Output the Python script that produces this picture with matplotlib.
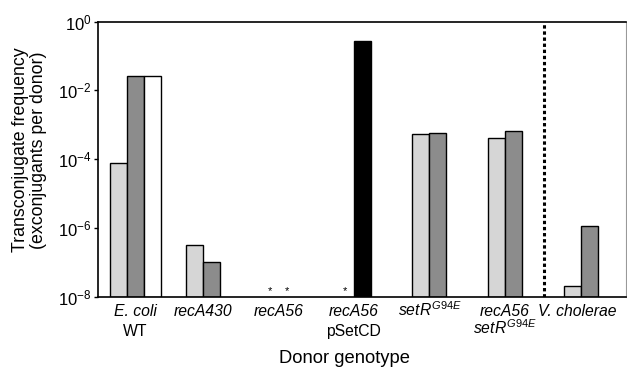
import matplotlib
matplotlib.use("Agg")
import matplotlib.pyplot as plt
import numpy as np

plt.rcParams['font.family'] = ['Liberation Sans', 'DejaVu Sans']
plt.rcParams['mathtext.fontset'] = 'custom'
plt.rcParams['mathtext.rm'] = 'Liberation Sans'
plt.rcParams['mathtext.it'] = 'Liberation Sans:italic'

groups = ['E. coli WT', 'recA430', 'recA56', 'recA56 pSetCD', 'setR G94E', 'recA56 setR G94E', 'V. cholerae']
# values per slot (None = not shown / below detection)
light_vals = [8e-5, 3.1e-7, None, None, 5.5e-4, 4.2e-4, 2.1e-8]
dark_vals = [2.6e-2, 1.05e-7, None, 2.8e-1, 5.8e-4, 6.5e-4, 1.15e-6]
dark_colors = ['#8c8c8c', '#8c8c8c', '#8c8c8c', '#000000', '#8c8c8c', '#8c8c8c', '#8c8c8c']
white_vals = [2.6e-2, None, None, None, None, None, None]
# below-detection markers: (group, slot)
star_slots = [(2, 0), (2, 1), (3, 0)]
tick_vals = [1e-8, 1e-6, 1e-4, 1e-2, 1e0]
tick_labels = [r'$10^{-8}$', r'$10^{-6}$', r'$10^{-4}$', r'$10^{-2}$', r'$10^{0}$']

W, H = 627, 368
fig = plt.figure(figsize=(W/100, H/100), dpi=100)
ax = fig.add_axes([97.7/W, 1-296.7/H, (626-97.7)/W, (296.7-21.7)/H])

w = 0.225
base = 1e-8
x = np.arange(len(groups))
for i in range(len(groups)):
    if light_vals[i] is not None:
        ax.bar(x[i] - w/2, light_vals[i] - base, w, bottom=base, color='#d6d6d6', edgecolor='black', linewidth=1.0)
    if dark_vals[i] is not None:
        ax.bar(x[i] + w/2, dark_vals[i] - base, w, bottom=base, color=dark_colors[i], edgecolor='black', linewidth=1.0)
    if white_vals[i] is not None:
        ax.bar(x[i] + 3*w/2, white_vals[i] - base, w, bottom=base, color='white', edgecolor='black', linewidth=1.0)

for g, s in star_slots:
    ax.text(x[g] + (s - 0.5) * w, 1.05e-8, '*', ha='center', va='bottom', fontsize=8)

ax.set_yscale('log')
ax.set_ylim(1e-8, 1e0)
ax.set_xlim(-0.388, 6.6)
ax.axvline(5.52, color='black', linestyle=(0, (1.1, 0.9)), linewidth=2.2)

ax.set_yticks(tick_vals)
ax.set_yticklabels(tick_labels, fontsize=12)
ax.yaxis.set_minor_locator(matplotlib.ticker.NullLocator())
ax.tick_params(axis='y', direction='out', length=3, width=1, pad=1.5)
ax.set_xticks([])

fs = 11.3
l1 = -19.5 * 0.72  # points, baseline of first line
l2 = -39.0 * 0.72  # points, baseline of second line
trans = ax.get_xaxis_transform()


def lab(xpos, line, txt, **kw):
    ax.annotate(txt, xy=(xpos, 0), xycoords=trans, xytext=(0, line), textcoords='offset points',
                ha='center', va='baseline', fontsize=fs, **kw)


lab(x[0] + w/2, l1, 'E. coli', style='italic')
lab(x[0] + w/2, l2, 'WT')
lab(x[1], l1, 'recA430', style='italic')
lab(x[2], l1, 'recA56', style='italic')
lab(x[3], l1, 'recA56', style='italic')
lab(x[3], l2, 'pSetCD')
lab(x[4], l1, r'$\mathit{setR}^{\mathit{G94E}}$')
lab(x[5], l1, 'recA56', style='italic')
lab(x[5], l2 + 1.5, r'$\mathit{setR}^{\mathit{G94E}}$')
lab(x[6] - 0.05, l1, 'V. cholerae', style='italic')

fig.text(344/W, 1-363/H, 'Donor genotype', ha='center', va='baseline', fontsize=13.2)
fig.text(29.5/W, 1-150/H, 'Transconjugate frequency\n(exconjugants per donor)', rotation=90,
         ha='center', va='center', fontsize=12.8, linespacing=1.05, multialignment='center')

for side in ['left', 'top', 'bottom']:
    ax.spines[side].set_linewidth(1.2)
    ax.spines[side].set_color('black')
ax.spines['right'].set_color('#999999')
ax.spines['right'].set_linewidth(0.8)

fig.savefig('out.png', dpi=100)
